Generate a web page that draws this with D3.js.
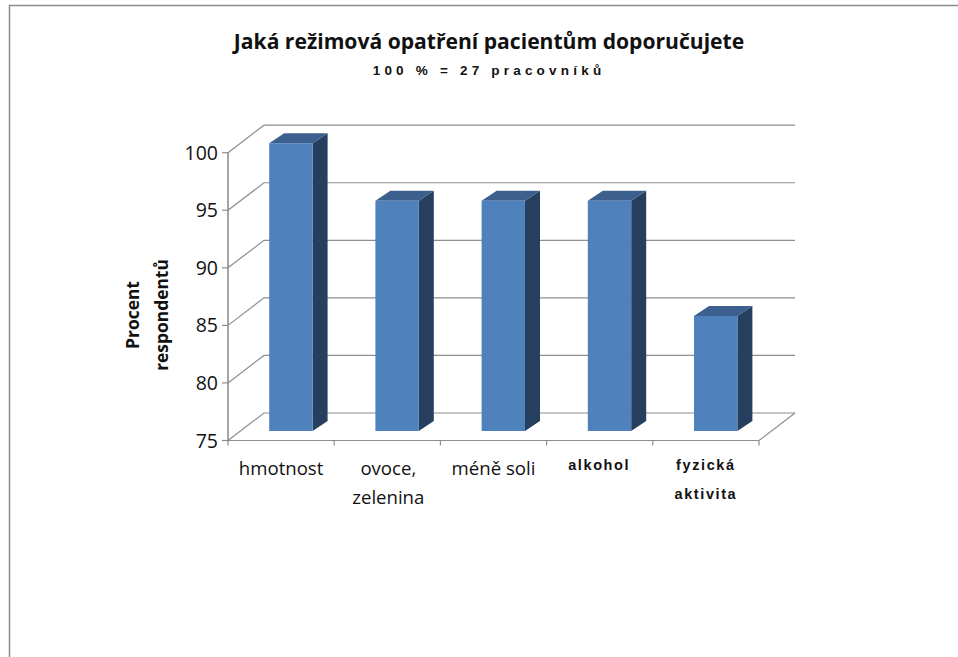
<!DOCTYPE html>
<html><head><meta charset="utf-8">
<script src="https://cdn.jsdelivr.net/npm/d3@7"></script>
<style>html,body{margin:0;padding:0;background:#fff}svg{display:block}text{font-family:"Open Sans","Noto Sans",sans-serif;fill:#111}</style>
</head><body><svg id="c" width="958" height="657"></svg>
<script>
const categories = ["hmotnost","ovoce, zelenina","méně soli","alkohol","fyzická aktivita"];
const values = [100,95,95,95,85];
const yTicks = [75,80,85,90,95,100];
const titleText = "Jaká režimová opatření pacientům doporučujete";
const subtitleText = "100 % = 27 pracovníků";
const yTitleLines = ["Procent","respondentů"];
const catLines = [["hmotnost"],["ovoce,","zelenina"],["méně soli"],["alkohol"],["fyzická","aktivita"]];
const catBold = [false,false,false,true,true];

const svg = d3.select("#c");
const x = d3.scaleBand().domain(categories).range([228,759]);
const y = d3.scaleLinear().domain([75,100]).range([440.5,152.7]);
const wallDx = 36, wallDy = -27.5, barDx = 15, barDy = -10;
const grey = "#8e8e8e";

svg.append("path").attr("d","M9.5,657V5.5H958").attr("fill","none").attr("stroke","#8c8c8c").attr("stroke-width",1.5);

const wall = svg.append("g").attr("fill","none").attr("stroke",grey).attr("stroke-width",1.2);
yTicks.forEach(t=>{
  wall.append("path").attr("d",`M${x.range()[0]},${y(t)}l${wallDx},${wallDy}H${x.range()[1]+wallDx}`);
  wall.append("line").attr("x1",222).attr("x2",228).attr("y1",y(t)).attr("y2",y(t));
});
wall.append("line").attr("x1",228).attr("x2",228).attr("y1",y(100)).attr("y2",y(75)+1).attr("stroke-width",1.6);
wall.append("path").attr("d",`M${x.range()[0]},${y(75)}H${x.range()[1]}l${wallDx},${wallDy}`);
const bounds = categories.map(c=>x(c)).concat(x.range()[1]);
bounds.forEach(b=>wall.append("line").attr("x1",b).attr("x2",b).attr("y1",y(75)).attr("y2",y(75)+5));

const barW = 43.4, barOff = 41.2, floorLift = 9.5;
const bars = svg.append("g").selectAll("g").data(categories).join("g");
bars.each(function(c,i){
  const g = d3.select(this), x0 = x(c)+barOff, top = y(values[i])-floorLift, bot = y(75)-floorLift;
  g.append("path").attr("d",`M${x0+barW},${top}l${barDx},${barDy}V${bot+barDy}l${-barDx},${-barDy}Z`).attr("fill","#273f5f");
  g.append("path").attr("d",`M${x0},${top}l${barDx},${barDy}h${barW}l${-barDx},${-barDy}Z`).attr("fill","#3c5f8e");
  g.append("rect").attr("x",x0).attr("y",top).attr("width",barW).attr("height",bot-top).attr("fill","#4f81bd");
});

svg.append("g").selectAll("text").data(yTicks).join("text")
  .attr("x",218).attr("y",d=>y(d)+7).attr("text-anchor","end").attr("font-size",19.5).text(d=>d);

svg.append("text").attr("x",489).attr("y",49).attr("text-anchor","middle").attr("font-size",21.1).attr("font-weight",700).text(titleText);
svg.append("text").attr("x",489).attr("y",75).attr("text-anchor","middle").attr("font-size",13.5).attr("font-weight",700)
  .attr("letter-spacing",4.2).style("font-family","'Liberation Sans',sans-serif").text(subtitleText);

yTitleLines.forEach((l,i)=>svg.append("text").attr("transform",`translate(${139+i*29},315) rotate(-90)`)
  .attr("text-anchor","middle").attr("font-size",17.4).attr("font-weight",700).text(l));

const labelNudge = [0,1,0,-0.5,0];
categories.forEach((c,i)=>{
  const cx = x(c)+x.bandwidth()/2 + labelNudge[i];
  catLines[i].forEach((l,j)=>{
    const t = svg.append("text").attr("x",cx).attr("y",(catBold[i]?470:475)+j*29).attr("text-anchor","middle").text(l);
    if(catBold[i]) t.attr("font-size",14.5).attr("font-weight",700).attr("letter-spacing",1.6).style("font-family","'Liberation Sans',sans-serif");
    else t.attr("font-size",18.6);
  });
});
</script></body></html>
